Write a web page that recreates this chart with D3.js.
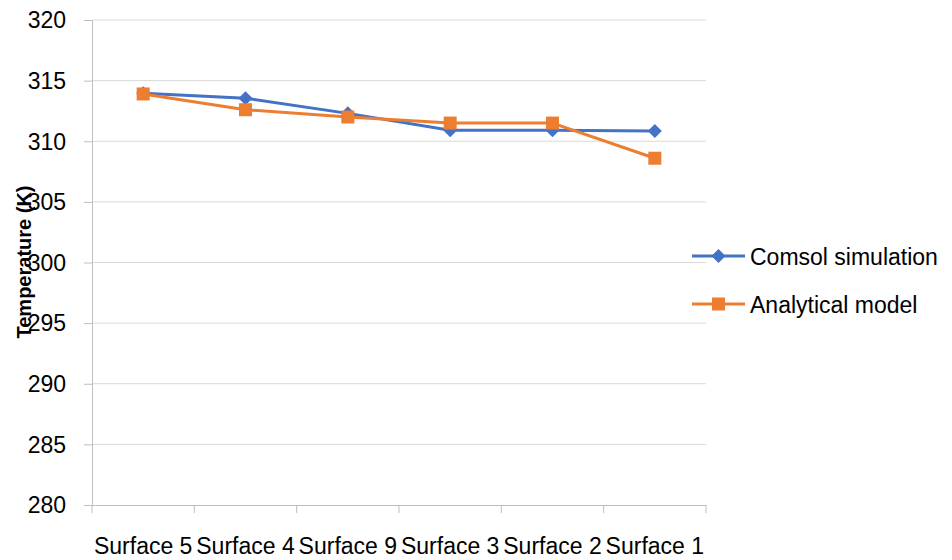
<!DOCTYPE html>
<html><head><meta charset="utf-8">
<script src="https://cdn.jsdelivr.net/npm/d3@7"></script>
<style>body{margin:0;background:#fff}svg{display:block}text{font-family:"Liberation Sans","Open Sans",sans-serif}</style>
</head><body><svg id="c" width="952" height="560"></svg>
<script>
const categories = ["Surface 5","Surface 4","Surface 9","Surface 3","Surface 2","Surface 1"];
const comsol = [313.95, 313.55, 312.3, 310.9, 310.9, 310.85];
const analytical = [313.9, 312.6, 312.0, 311.5, 311.5, 308.6];
const yTicks = [280,285,290,295,300,305,310,315,320];
const seriesNames = ["Comsol simulation","Analytical model"];
const colors = ["#4472c4","#ed7d31"];

const svg = d3.select("#c");
const L=92, R=706, T=20, B=505;
const x = d3.scaleBand().domain(categories).range([L,R]);
const y = d3.scaleLinear().domain([280,320]).range([B,T]);

// gridlines
svg.append("g").selectAll("line").data(yTicks.filter(d=>d>280)).join("line")
  .attr("x1",L).attr("x2",R).attr("y1",d=>y(d)).attr("y2",d=>y(d))
  .attr("stroke","#d9d9d9").attr("stroke-width",1);

// y axis
const ya = svg.append("g").attr("transform",`translate(${L},0)`)
  .call(d3.axisLeft(y).tickValues(yTicks).tickSize(8).tickPadding(18));
ya.select(".domain").attr("stroke","#bfbfbf");
ya.selectAll(".tick line").attr("stroke","#bfbfbf");
ya.selectAll("text").attr("font-size",23).attr("fill","#000").attr("dy","0.34em")
  .style("font-family","'Liberation Sans',sans-serif");

// x axis
const xa = svg.append("g").attr("transform",`translate(0,${B})`)
  .call(d3.axisBottom(x).tickSize(0));
xa.select(".domain").attr("stroke","#bfbfbf");
xa.selectAll("text").attr("font-size",23).attr("fill","#000").attr("y",49).attr("dy",0)
  .style("font-family","'Liberation Sans',sans-serif");
// boundary ticks
const bounds = categories.map(c=>x(c)).concat([R]);
svg.append("g").selectAll("line").data(bounds).join("line")
  .attr("x1",d=>d).attr("x2",d=>d).attr("y1",B).attr("y2",B+8)
  .attr("stroke","#bfbfbf");

// y title
svg.append("text").attr("transform","translate(31,262) rotate(-90)")
  .attr("text-anchor","middle").attr("font-size",20).attr("font-weight","bold").text("Temperature (K)");

const cx = c => x(c)+x.bandwidth()/2;
const line = d3.line().x((d,i)=>cx(categories[i])).y(d=>y(d));
const data = [comsol, analytical];
data.forEach((s,k)=>{
  svg.append("path").datum(s).attr("d",line).attr("fill","none")
    .attr("stroke",colors[k]).attr("stroke-width",3).attr("stroke-linejoin","round");
});
function marker(g,k,px,py){
  if(k===0){
    g.append("path").attr("d",`M${px},${py-7}L${px+7},${py}L${px},${py+7}L${px-7},${py}Z`).attr("fill",colors[0]);
  } else {
    g.append("rect").attr("x",px-6.5).attr("y",py-6.5).attr("width",13).attr("height",13).attr("fill",colors[1]);
  }
}
data.forEach((s,k)=>{
  const g = svg.append("g");
  s.forEach((v,i)=>marker(g,k,cx(categories[i]),y(v)));
});

// legend
seriesNames.forEach((n,k)=>{
  const ly = 256 + k*48;
  const g = svg.append("g");
  g.append("line").attr("x1",692).attr("x2",745).attr("y1",ly).attr("y2",ly).attr("stroke",colors[k]).attr("stroke-width",3);
  marker(g,k,718.5,ly);
  g.append("text").attr("x",750).attr("y",ly+9).attr("font-size",23).text(n);
});
</script></body></html>
